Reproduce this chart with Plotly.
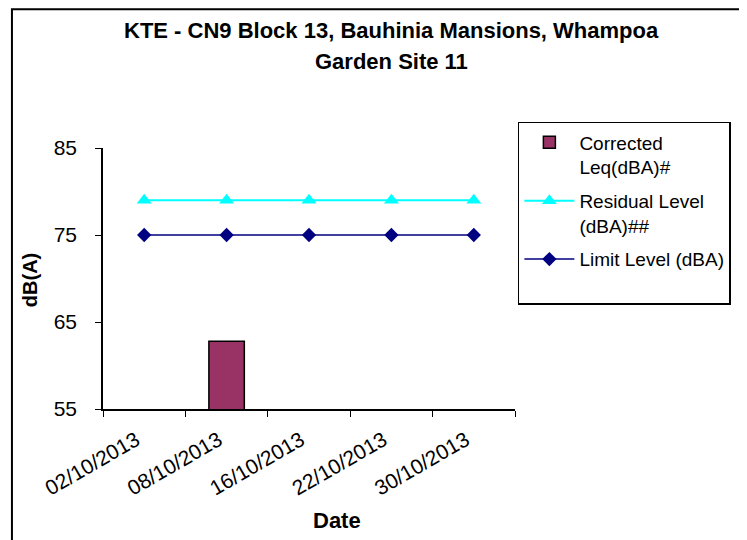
import plotly.graph_objects as go

dates = ['02/10/2013', '08/10/2013', '16/10/2013', '22/10/2013', '30/10/2013']
corrected_leq = [None, 62.8, None, None, None]
residual_level = [79, 79, 79, 79, 79]
limit_level = [75, 75, 75, 75, 75]

font_family = 'Liberation Sans, Arial, sans-serif'

fig = go.Figure()

fig.add_trace(go.Bar(
    x=dates, y=corrected_leq, name='Corrected<br>Leq(dBA)#', legendgroup='a',
    marker=dict(color='#993366', line=dict(color='black', width=1.5)),
    width=0.43,
))
fig.add_trace(go.Scatter(
    x=dates, y=residual_level, name='Residual Level<br>(dBA)##', legendgroup='b',
    mode='lines+markers',
    line=dict(color='#00FFFF', width=2),
    marker=dict(symbol='triangle-up', size=13, color='#00FFFF'),
))
fig.add_trace(go.Scatter(
    x=dates, y=limit_level, name='Limit Level (dBA)<br> ', legendgroup='c',
    mode='lines+markers',
    line=dict(color='#000080', width=1.5),
    marker=dict(symbol='diamond', size=11, color='#000080'),
))

# chart title, two lines
fig.add_annotation(text='<b>KTE - CN9 Block 13, Bauhinia Mansions, Whampoa</b>',
                   xref='paper', yref='paper', x=0.70, y=1.452, showarrow=False,
                   xanchor='center', yanchor='middle',
                   font=dict(size=22, color='black', family=font_family))
fig.add_annotation(text='<b>Garden Site 11</b>',
                   xref='paper', yref='paper', x=0.70, y=1.333, showarrow=False,
                   xanchor='center', yanchor='middle',
                   font=dict(size=22, color='black', family=font_family))
# axis titles
fig.add_annotation(text='<b>Date</b>', xref='paper', yref='paper',
                   x=0.568, y=-0.429, showarrow=False,
                   xanchor='center', yanchor='middle',
                   font=dict(size=22, color='black', family=font_family))
fig.add_annotation(text='<b>dB(A)</b>', xref='paper', yref='paper',
                   x=-0.177, y=0.494, showarrow=False, textangle=-90,
                   xanchor='center', yanchor='middle',
                   font=dict(size=20, color='black', family=font_family))

# outer chart border
fig.add_shape(type='rect', xref='paper', yref='paper',
              x0=-0.221, x1=1.7, y0=-0.7, y1=1.532,
              line=dict(color='black', width=2), layer='below')

fig.update_layout(
    width=747, height=540,
    margin=dict(l=95, r=240, t=140, b=139),
    paper_bgcolor='white', plot_bgcolor='white',
    font=dict(family=font_family, size=19, color='black'),
    showlegend=True,
    legend=dict(x=1.007, y=1.10, xanchor='left', yanchor='top',
                bordercolor='black', borderwidth=1.5, bgcolor='white',
                font=dict(size=19), tracegroupgap=6, valign='top',
                itemwidth=50),
    xaxis=dict(
        type='category', range=[-0.5, 4.5], automargin=False,
        showline=True, linecolor='black', linewidth=1.5,
        ticks='outside', tickson='boundaries', ticklen=6, tickcolor='black',
        tickangle=-30, tickfont=dict(size=21), showgrid=False,
        ticklabelshift=-8, ticklabelstandoff=9,
    ),
    yaxis=dict(
        range=[55, 85], tickvals=[55, 65, 75, 85], automargin=False,
        showline=True, linecolor='black', linewidth=1.5,
        ticks='outside', ticklen=6, tickcolor='black', showgrid=False,
        zeroline=False, tickfont=dict(size=21), ticklabelstandoff=14,
    ),
)

fig.write_html('out.html')
